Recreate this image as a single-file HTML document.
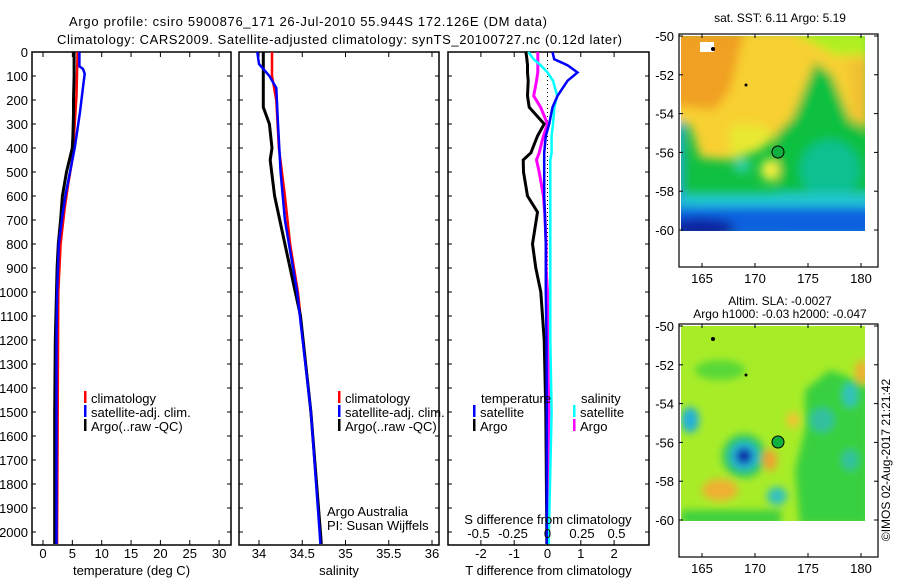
<!DOCTYPE html>
<html><head><meta charset="utf-8"><style>
body{margin:0;background:#fff}
svg{display:block;font-family:"Liberation Sans",sans-serif;font-size:13px}
</style></head><body>
<svg id="c" width="900" height="580" viewBox="0 0 900 580">
<defs>
<filter id="bl" x="-20%" y="-20%" width="140%" height="140%"><feGaussianBlur stdDeviation="5"/></filter>
<filter id="bl2" x="-50%" y="-50%" width="200%" height="200%"><feGaussianBlur stdDeviation="4"/></filter>
<clipPath id="m1"><rect x="681" y="36" width="184" height="195"/></clipPath>
<clipPath id="m2"><rect x="681" y="326" width="184" height="195"/></clipPath>
</defs>
<text x="69" y="26" textLength="478">Argo profile: csiro 5900876_171 26-Jul-2010 55.944S 172.126E (DM data)</text>
<text x="57" y="44" textLength="565">Climatology: CARS2009. Satellite-adjusted climatology: synTS_20100727.nc (0.12d later)</text>

<!-- map 1 -->
<g>
<text x="780" y="22" text-anchor="middle" font-size="12">sat. SST: 6.11 Argo: 5.19</text>
<g clip-path="url(#m1)">
<rect x="681" y="36" width="184" height="195" fill="#10c040"/>
<g filter="url(#bl)">
<polygon points="670,30 870,30 870,130 850,120 832,75 815,62 800,100 790,125 760,150 730,160 700,158 690,125 670,125" fill="#f8d030"/>
<polygon points="670,30 745,30 730,90 715,110 670,105" fill="#f0a020"/>
<polygon points="790,30 870,30 870,55 835,55" fill="#b0f020"/>
<polygon points="848,60 870,60 870,125 855,120" fill="#f0c030"/>
<polygon points="815,62 832,75 850,120 870,140 870,240 780,240 775,135 795,115" fill="#10c040"/>
<polygon points="730,125 760,125 775,135 760,150 730,160" fill="#e8e830"/>
<ellipse cx="770" cy="170" rx="9" ry="11" fill="#f8f040"/>
<ellipse cx="742" cy="166" rx="8" ry="7" fill="#30d0b0"/>
<ellipse cx="830" cy="170" rx="30" ry="30" fill="#10c090"/>
<rect x="670" y="193" width="210" height="14" fill="#20c8d0"/>
<rect x="670" y="207" width="210" height="30" fill="#1060e0"/>
<rect x="670" y="122" width="14" height="80" fill="#20a8d8"/>
<ellipse cx="700" cy="228" rx="35" ry="10" fill="#0820a0"/>
</g>
<rect x="700" y="42" width="14" height="10" fill="#fff"/>
</g>
<circle cx="778" cy="152" r="6" fill="#10b040" stroke="#000" stroke-width="1"/>
<circle cx="713" cy="49" r="2" fill="#000"/><circle cx="746" cy="85" r="1.5" fill="#000"/>
</g>

<!-- map 2 -->
<g>
<text x="780" y="305" text-anchor="middle" font-size="12">Altim. SLA: -0.0027</text>
<text x="780" y="318" text-anchor="middle" font-size="12">Argo h1000: -0.03 h2000: -0.047</text>
<g clip-path="url(#m2)">
<rect x="681" y="326" width="184" height="195" fill="#a8ec28"/>
<g filter="url(#bl2)">
<polygon points="805,390 830,370 870,385 870,525 800,525 795,470 805,430" fill="#38d040"/>
<ellipse cx="720" cy="370" rx="25" ry="10" fill="#58d838"/>
<ellipse cx="744" cy="456" rx="22" ry="22" fill="#30c860"/>
<ellipse cx="744" cy="456" rx="14" ry="14" fill="#20b0e0"/>
<ellipse cx="744" cy="456" rx="8" ry="8" fill="#0820a0"/>
<ellipse cx="720" cy="490" rx="18" ry="11" fill="#f0b030"/>
<ellipse cx="770" cy="460" rx="7" ry="11" fill="#f0a030"/>
<ellipse cx="793" cy="420" rx="6" ry="8" fill="#f8c030"/>
<ellipse cx="862" cy="372" rx="7" ry="12" fill="#f0b030"/>
<ellipse cx="690" cy="420" rx="9" ry="13" fill="#20b0d8"/>
<ellipse cx="850" cy="395" rx="7" ry="12" fill="#30c0c0"/>
<ellipse cx="777" cy="496" rx="10" ry="9" fill="#30c0c0"/>
<ellipse cx="850" cy="460" rx="8" ry="10" fill="#30c0a0"/>
<ellipse cx="822" cy="420" rx="12" ry="12" fill="#30c0a0"/>
<rect x="681" y="510" width="100" height="15" fill="#40d040"/>
</g>
</g>
<circle cx="778" cy="442" r="6" fill="#10b040" stroke="#000" stroke-width="1"/>
<circle cx="713" cy="339" r="2" fill="#000"/><circle cx="746" cy="375" r="1.5" fill="#000"/>
</g>
<text transform="translate(890,460) rotate(-90)" text-anchor="middle" font-size="12">©IMOS 02-Aug-2017 21:21:42</text>
<g id="ax"></g>
</svg>
<script>
// ---- data ----
const depthArgoT=[0,100,200,260,350,400,450,500,600,700,800,900,1000,1200,1500,2000,2050];
const argoT=[5.3,5.3,5.2,5.2,5.1,5.0,4.5,4.0,3.3,3.0,2.6,2.4,2.3,2.1,2.0,2.0,2.0];
const depthSatT=[0,60,70,90,150,250,400,500,600,700,800,1000,1200,1500,2000,2050];
const satT=[6.2,6.2,6.8,7.1,6.8,6.3,5.4,4.6,3.8,3.2,2.7,2.4,2.3,2.3,2.3,2.3];
const depthClimT=[0,180,300,450,550,650,800,1000,1500,2000,2050];
const climT=[5.9,5.7,5.4,5.0,4.3,3.7,3.0,2.6,2.5,2.4,2.4];

const depthArgoS=[0,230,300,400,450,600,800,1000,1100,1500,2000,2050];
const argoS=[34.05,34.05,34.12,34.15,34.13,34.18,34.3,34.42,34.48,34.6,34.71,34.72];
const depthSatS=[0,50,100,150,300,500,700,1000,1500,2000,2050];
const satS=[33.98,34.0,34.12,34.2,34.22,34.25,34.3,34.44,34.6,34.7,34.71];
const depthClimS=[0,100,200,400,600,800,1000,1500,2000,2050];
const climS=[34.15,34.15,34.2,34.23,34.3,34.36,34.45,34.6,34.71,34.72];

const depthDiff=[0,30,55,85,120,183,230,300,350,420,450,500,600,667,800,900,1000,1200,1500,2000,2050];
const satTdiff=[0.15,0.2,0.6,0.9,0.6,0.3,0.15,0.05,-0.05,-0.1,-0.1,-0.1,-0.1,-0.08,-0.05,-0.05,-0.05,-0.03,-0.02,-0.02,-0.02];
const argoTdiff=[-0.65,-0.62,-0.6,-0.6,-0.58,-0.6,-0.55,-0.1,-0.3,-0.5,-0.73,-0.72,-0.6,-0.3,-0.45,-0.35,-0.2,-0.1,-0.05,-0.02,-0.02];
const satSdiff=[-0.14,-0.1,-0.05,0.0,0.04,0.07,0.05,0.04,0.03,0.03,0.02,0.02,0.02,0.02,0.02,0.02,0.02,0.02,0.03,0.01,0.01];
const argoSdiff=[-0.07,-0.07,-0.07,-0.07,-0.08,-0.1,-0.05,0.0,-0.03,-0.06,-0.08,-0.06,-0.03,-0.02,-0.01,-0.01,0.0,0.0,0.01,0.0,0.0];

const depthTicks=[0,100,200,300,400,500,600,700,800,900,1000,1100,1200,1300,1400,1500,1600,1700,1800,1900,2000];
const tTicks=[0,5,10,15,20,25,30];
const sTicks=[34,34.5,35,35.5,36];
const tdTicks=[-2,-1,0,1,2];
const sdTicks=[-0.5,-0.25,0,0.25,0.5];
const lonTicks=[165,170,175,180];
const latTicks=[-50,-52,-54,-56,-58,-60];

// ---- drawing ----
const NS='http://www.w3.org/2000/svg';
const ax=document.getElementById('ax');
function el(t,a,p){const e=document.createElementNS(NS,t);for(const k in a)e.setAttribute(k,a[k]);(p||ax).appendChild(e);return e;}
const yD=d=>52+d*0.24;
const TOP=52,BOT=545;
function panel(name,x0,x1,xf,ticks,fmt,title){
  const g=el('g',{});
  
  
  const r=el('rect',{x:x0,y:TOP,width:x1-x0,height:BOT-TOP,fill:'none',stroke:'#000','stroke-width':1.5},g);
  
  
  ticks.forEach(v=>{const x=xf(v);
    el('line',{x1:x,x2:x,y1:TOP,y2:TOP+5,stroke:'#000'},g);
    el('line',{x1:x,x2:x,y1:BOT,y2:BOT-5,stroke:'#000'},g);
    if(fmt){const t=el('text',{x:x,y:558,'text-anchor':'middle'},g);t.textContent=fmt(v);
      
      }
  });
  depthTicks.forEach(d=>{const y=yD(d);
    el('line',{x1:x0,x2:x0+4,y1:y,y2:y,stroke:'#000'},g);
    el('line',{x1:x1,x2:x1-4,y1:y,y2:y,stroke:'#000'},g);});
  if(title){const t=el('text',{x:(x0+x1)/2,y:575,'text-anchor':'middle'},g);t.textContent=title;
    
    }
  return g;
}
function line(g,xf,vals,deps,col,w,name){
  let d='';vals.forEach((v,i)=>{d+=(i?'L':'M')+xf(v).toFixed(1)+','+yD(deps[i]).toFixed(1);});
  const p=el('path',{d:d,fill:'none',stroke:col,'stroke-width':w,'stroke-linejoin':'miter'},g);
  
  
}
function legend(g,x,y,col,txt){
  el('rect',{x:x,y:y-7,width:2.5,height:12,fill:col},g);
  const t=el('text',{x:x+7,y:y+5},g);t.textContent=txt;
  
  
}
depthTicks.forEach(d=>{const t=el('text',{x:28,y:yD(d)+5,'text-anchor':'end'});t.textContent=d;
  
  });

const xT=v=>43+v*5.87;
const g1=panel('temperature-panel',32,231,xT,tTicks,v=>v,'temperature (deg C)');
line(g1,xT,climT,depthClimT,'#f00',2.5,'climatology-temperature-line');
line(g1,xT,argoT,depthArgoT,'#000',3,'argo-temperature-line');
line(g1,xT,satT,depthSatT,'#00f',2.5,'satellite-temperature-line');
legend(g1,84,398,'#f00','climatology');legend(g1,84,412,'#00f','satellite-adj. clim.');legend(g1,84,426,'#000','Argo(..raw -QC)');

const xS=v=>259+(v-34)*86.5;
const g2=panel('salinity-panel',239,439,xS,sTicks,v=>v,'salinity');
line(g2,xS,climS,depthClimS,'#f00',2.5,'climatology-salinity-line');
line(g2,xS,argoS,depthArgoS,'#000',3,'argo-salinity-line');
line(g2,xS,satS,depthSatS,'#00f',2.5,'satellite-salinity-line');
legend(g2,338,398,'#f00','climatology');legend(g2,338,412,'#00f','satellite-adj. clim.');legend(g2,338,426,'#000','Argo(..raw -QC)');
[['Argo Australia',516],['PI: Susan Wijffels',530]].forEach(a=>{const t=el('text',{x:327,y:a[1]},g2);t.textContent=a[0];
  
  });

const xTd=v=>547.5+v*33.3;
const xSd=v=>547.5+v*138;
const g3=panel('difference-panel',448,649,xTd,tdTicks,v=>v,'T difference from climatology');
el('line',{x1:547.5,x2:547.5,y1:TOP,y2:400,stroke:'#000','stroke-dasharray':'1,3'},g3);
line(g3,xTd,argoTdiff,depthDiff,'#000',3,'argo-temperature-diff-line');
line(g3,xSd,argoSdiff,depthDiff,'#f0f',3,'argo-salinity-diff-line');
line(g3,xSd,satSdiff,depthDiff,'#0ff',2.5,'satellite-salinity-diff-line');
line(g3,xTd,satTdiff,depthDiff,'#00f',2.5,'satellite-temperature-diff-line');
sdTicks.forEach(v=>{const t=el('text',{x:xSd(v),y:538,'text-anchor':'middle'},g3);t.textContent=v;
  
  });
{const t=el('text',{x:548,y:524,'text-anchor':'middle'},g3);t.textContent='S difference from climatology';
  
  }
{const t=el('text',{x:481,y:403},g3);t.textContent='temperature';
  
  }
{const t=el('text',{x:581,y:403},g3);t.textContent='salinity';
  
  }
legend(g3,473,412,'#00f','satellite');legend(g3,473,426,'#000','Argo');
legend(g3,573,412,'#0ff','satellite');legend(g3,573,426,'#f0f','Argo');

const xLon=v=>702+(v-165)*10.6;
[[36,267,'sst-map-axes'],[326,557,'sla-map-axes']].forEach(m=>{
  const y0=m[0],y1=m[1];
  const g=el('g',{});
  
  
  el('rect',{x:679,y:y0-2,width:199,height:y1-y0+2,fill:'none',stroke:'#000','stroke-width':1.2},g);
  lonTicks.forEach(v=>{const x=xLon(v);
    el('line',{x1:x,x2:x,y1:y1,y2:y1-4,stroke:'#000'},g);
    el('line',{x1:x,x2:x,y1:y0-2,y2:y0+2,stroke:'#000'},g);
    const t=el('text',{x:x,y:y1+16,'text-anchor':'middle'},g);t.textContent=v;
    
    });
  latTicks.forEach(v=>{const y=y0+(-50-v)*19.4;
    el('line',{x1:679,x2:683,y1:y,y2:y,stroke:'#000'},g);
    el('line',{x1:878,x2:874,y1:y,y2:y,stroke:'#000'},g);
    const t=el('text',{x:674,y:y+5,'text-anchor':'end'},g);t.textContent=v;
    
    });
});
</script>
</body></html>
